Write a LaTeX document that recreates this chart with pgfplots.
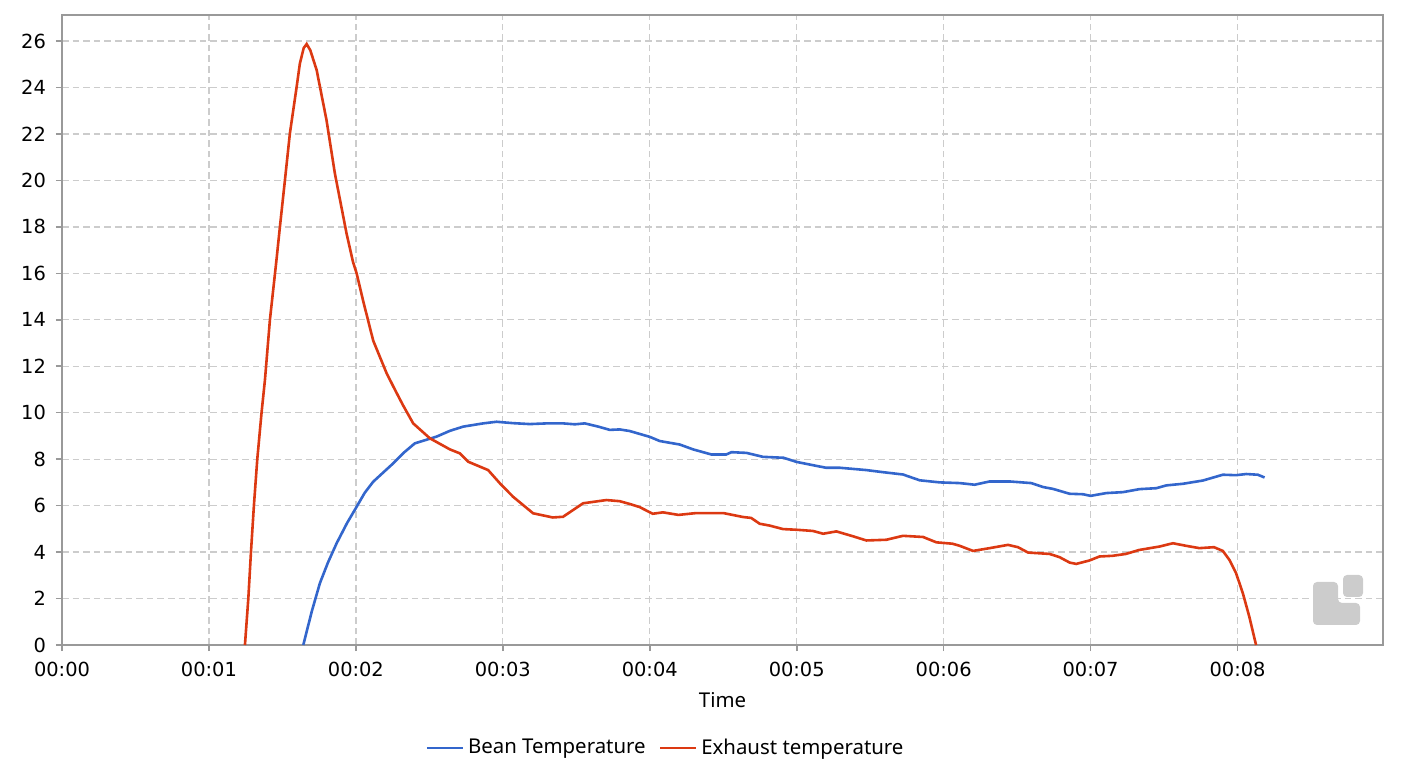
\documentclass[border=0pt]{standalone}
\usepackage{fontspec}
\setmainfont{Noto Sans}
\newfontfamily\dejavu{DejaVu Sans}
\usepackage{pgfplots}
\pgfplotsset{compat=1.18}
\definecolor{bean}{HTML}{3366CC}
\definecolor{exh}{HTML}{DC3912}
\begin{document}
\begin{tikzpicture}[x=1pt,y=1pt]
\useasboundingbox (-31,-65.5) rectangle (673,322.5);
\begin{axis}[
  scale only axis,
  width=660.5pt, height=315pt,
  xmin=0, xmax=8.99, ymin=0, ymax=27.12,
  xtick={0,1,2,3,4,5,6,7,8},
  xticklabels={00:00,00:01,00:02,00:03,00:04,00:05,00:06,00:07,00:08},
  ytick={0,2,...,26},
  xtick pos=bottom, ytick pos=left,
  tick align=outside,
  major tick length=3pt,
  tick style={gray!80, line width=0.8pt},
  axis line style={gray!80, line width=0.8pt},
  grid=major,
  grid style={gray!40, line width=0.65pt, dash pattern=on 3.3pt off 2pt},
  /pgf/number format/assume math mode=true,
  ticklabel style={font=\dejavu\fontsize{9.7}{11}\selectfont},
  yticklabel style={xshift=-1.5pt},
  xticklabel style={yshift=-2pt},
  xlabel={Time},
  xlabel style={at={(axis description cs:0.5,0)}, anchor=center, yshift=-27.5pt, font=\fontsize{10.2}{12}\selectfont},
  legend style={at={(axis description cs:0.4576,-0.1635)}, anchor=center, draw=none, fill=none,
    legend columns=2, font=\fontsize{10.2}{12}\selectfont,
    /tikz/every even column/.append style={column sep=4.5pt}},
  legend image code/.code={\draw[#1] (0pt,0pt) -- (18pt,0pt);},
]
\addplot[bean, line width=1.3pt] coordinates {
(1.642,0) (1.70,1.45) (1.755,2.66) (1.81,3.55) (1.869,4.38) (1.94,5.25) (2.005,5.95)
(2.06,6.55) (2.118,7.03) (2.254,7.82) (2.33,8.3) (2.401,8.68) (2.549,8.97) (2.64,9.22)
(2.73,9.4) (2.866,9.54) (2.957,9.61) (3.07,9.55) (3.184,9.51) (3.3,9.54) (3.41,9.54)
(3.49,9.5) (3.558,9.54) (3.65,9.4) (3.728,9.26) (3.796,9.28) (3.864,9.21) (4.0,8.96)
(4.068,8.78) (4.204,8.63) (4.295,8.42) (4.42,8.2) (4.52,8.2) (4.556,8.3) (4.658,8.27)
(4.77,8.1) (4.91,8.06) (5.0,7.88) (5.11,7.74) (5.2,7.63) (5.293,7.63) (5.474,7.53)
(5.587,7.44) (5.723,7.34) (5.837,7.09) (5.973,7.0) (6.109,6.97) (6.211,6.9) (6.313,7.04)
(6.449,7.04) (6.596,6.97) (6.676,6.8) (6.744,6.72) (6.857,6.51) (6.948,6.49) (7.0,6.42)
(7.107,6.54) (7.22,6.58) (7.333,6.71) (7.447,6.75) (7.515,6.87) (7.628,6.94) (7.764,7.08)
(7.9,7.33) (7.99,7.31) (8.059,7.36) (8.138,7.33) (8.184,7.21)
};
\addlegendentry{Bean Temperature}
\addplot[exh, line width=1.3pt] coordinates {
(1.245,0) (1.268,2) (1.286,4) (1.306,6) (1.329,8) (1.358,10) (1.381,11.4) (1.415,14.0)
(1.46,16.6) (1.483,18.0)
(1.517,20.0) (1.551,22.03) (1.597,24.03) (1.619,25.04) (1.645,25.7) (1.665,25.87)
(1.69,25.6) (1.733,24.75) (1.8,22.6) (1.857,20.3) (1.937,17.7) (1.98,16.5) (2.005,16.0)
(2.05,14.8) (2.118,13.1) (2.209,11.7) (2.265,11.0) (2.32,10.33) (2.39,9.54) (2.503,8.9)
(2.64,8.42) (2.707,8.25) (2.764,7.89) (2.9,7.53) (2.98,6.96) (3.07,6.38) (3.206,5.67)
(3.34,5.49) (3.41,5.52) (3.546,6.1) (3.705,6.24) (3.796,6.19) (3.864,6.07) (3.93,5.94)
(4.02,5.65) (4.09,5.71) (4.195,5.6) (4.317,5.68) (4.5,5.68) (4.635,5.51) (4.69,5.47)
(4.748,5.22) (4.816,5.14) (4.907,4.99) (5.0,4.96) (5.11,4.91) (5.18,4.79) (5.27,4.89)
(5.383,4.68) (5.474,4.5) (5.61,4.53) (5.723,4.7) (5.86,4.65) (5.95,4.42) (6.06,4.36)
(6.109,4.27) (6.2,4.05) (6.313,4.17) (6.438,4.31) (6.506,4.21) (6.574,3.98) (6.721,3.92)
(6.789,3.78) (6.857,3.55) (6.902,3.49) (6.993,3.64) (7.06,3.81) (7.15,3.84) (7.24,3.92)
(7.33,4.09) (7.47,4.24) (7.56,4.38) (7.65,4.27) (7.74,4.17) (7.84,4.21) (7.9,4.05)
(7.945,3.66) (7.99,3.09) (8.036,2.23) (8.08,1.22) (8.126,0)
};
\addlegendentry{Exhaust temperature}
\end{axis}
\fill[gray!40, rounded corners=2pt] (625.5,10) -- (625.5,31.5) -- (638,31.5) -- (638,21) -- (649,21) -- (649,10) -- cycle;
\fill[gray!40, rounded corners=2pt] (640.5,24) rectangle (650.5,35);
\end{tikzpicture}
\end{document}
